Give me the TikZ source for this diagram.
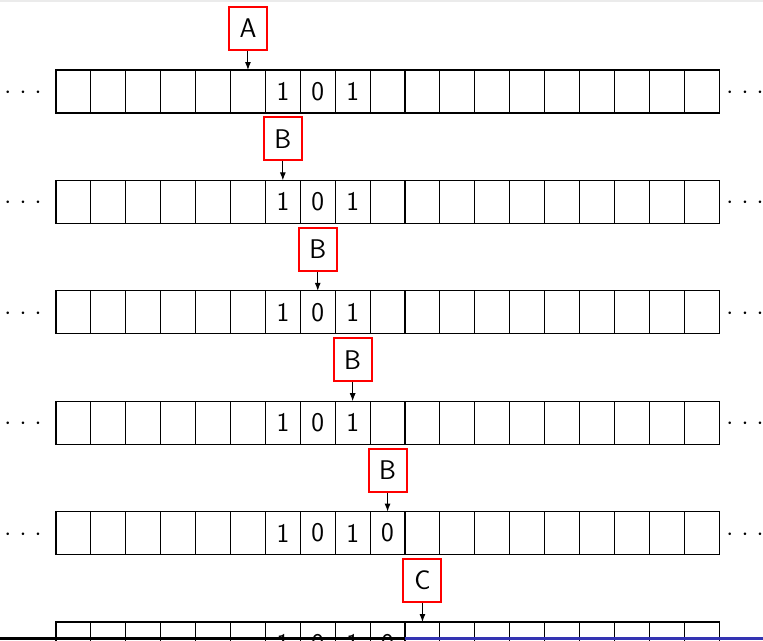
\documentclass[tikz,border=0pt]{standalone}
\usetikzlibrary{arrows.meta,positioning}
\definecolor{BarBlue}{RGB}{51,51,178}
\definecolor{TopGray}{RGB}{235,235,235}

\begin{document}
\begin{tikzpicture}[x=1pt,y=-1pt,
cell/.style={draw,line width=1.1pt,minimum width=34.9pt,minimum height=43pt,inner sep=0pt,outer sep=0pt},
sym/.style={font=\fontsize{27}{30}\selectfont\sffamily,inner sep=0pt},
head/.style={draw=red,line width=2pt,minimum width=38pt,minimum height=43pt,inner sep=0pt,font=\fontsize{27}{30}\selectfont\sffamily},
arr/.style={-{Latex[length=8pt,width=6pt]},line width=1pt},
more/.style={font=\fontsize{27}{30}\selectfont,inner sep=0pt,anchor=base}
]
\useasboundingbox (0,0) rectangle (763,640);
\clip (0,0) rectangle (763,640);
\draw[TopGray,line width=2pt] (0,1) -- (763,1);

% one tape per step, head above it
\foreach \r/\h/\k in {0/A/5,1/B/6,2/B/7,3/B/8,4/B/9,5/C/10}{
  \pgfmathsetmacro{\top}{70+110.4*\r}
  \foreach \i in {0,...,18}
    \node[cell] (c\r-\i) at ({56+34.9*(\i+0.5)},{\top+21.5}) {};
  \foreach \i/\v in {6/1,7/0,8/1}
    \node[sym] (d\r-\i) at (c\r-\i) {\v};
  \ifnum\r>3
    \node[sym] (d\r-9) at (c\r-9) {0};
  \fi
  \node[more] (l\r) at (23,{\top+28.5}) {${\cdot}\mkern6mu{\cdot}\mkern6mu{\cdot}$};
  \node[more] (r\r) at (745,{\top+28.5}) {${\cdot}\mkern6mu{\cdot}\mkern6mu{\cdot}$};
  \node[head] (h\r) at ({56+34.9*(\k+0.5)},{\top-41.5}) {\h};
  \draw[arr] (h\r) -- (c\r-\k.north);
}

% slide footer
\fill[black] (0,637) rectangle (405,640);
\fill[BarBlue] (405,637) rectangle (763,640);
\end{tikzpicture}
\end{document}
